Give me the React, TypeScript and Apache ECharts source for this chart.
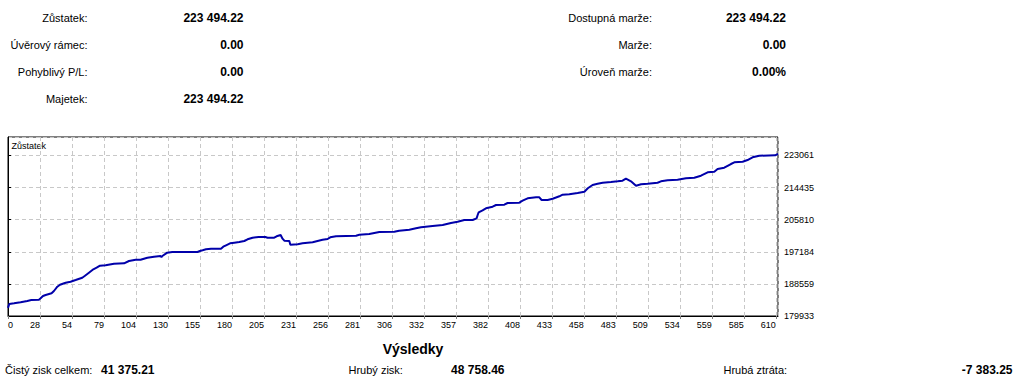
import React, { useEffect, useRef } from 'react';
import * as echarts from 'echarts';

// Trade number (x) and account balance (y)
const trades = [
  0, 1.0, 4.8, 10.0, 15.3, 18.5, 24.6, 25.9, 27.8, 29.9, 34.6, 36.5, 39.2, 41.3, 45.8, 49.7,
  53.7, 59.0, 60.9, 64.3, 67.8, 70.4, 73.1, 77.5, 84.2, 92.2, 96.1, 101.4, 105.3, 110.7, 116.0,
  121.2, 121.9, 122.6, 126.5, 130.5, 150.5, 152.5, 154.6, 157.3, 161.3, 169.2, 171.0, 173.2,
  176.4, 179.8, 183.7, 187.7, 190.3, 194.3, 199.1, 204.4, 206.2, 211.5, 213.4, 216.6, 218.1,
  219.5, 223.5, 224.3, 230.1, 234.0, 242.0, 245.9, 249.9, 253.9, 256.0, 260.6, 276.5, 279.1,
  287.0, 291.0, 295.0, 306.9, 310.7, 318.8, 324.1, 328.1, 337.3, 345.3, 351.9, 357.2, 362.5,
  369.1, 372.3, 373.1, 373.9, 377.0, 379.7, 385.0, 387.7, 394.3, 396.9, 406.2, 408.8, 412.8,
  419.5, 422.1, 423.9, 428.7, 432.7, 438.0, 440.6, 445.9, 452.5, 457.9, 460.6, 464.4, 468.4,
  472.4, 479.0, 484.3, 488.2, 490.9, 494.9, 498.9, 502.9, 508.1, 516.0, 518.7, 524.0, 531.9,
  538.6, 545.2, 550.5, 555.8, 561.1, 563.7, 569.0, 574.3, 577.0, 583.6, 587.5, 591.5, 596.8,
  609.5, 611.7,
];
const balances = [
  182119, 183157, 183345, 183614, 183964, 184232, 184313, 184689, 185307, 185576, 186032, 186651,
  187806, 188343, 188881, 189150, 189606, 190224, 190681, 191568, 192481, 192911, 193449, 193556,
  193986, 194094, 194712, 195061, 195061, 195598, 195867, 196055, 195750, 196055, 196942, 197130,
  197130, 197400, 197587, 197855, 198016, 198016, 198554, 198930, 199467, 199628, 199817, 200086,
  200542, 200972, 201160, 201160, 200972, 200972, 201349, 201698, 200704, 200166, 200086, 199091,
  199199, 199467, 199736, 200086, 200435, 200623, 201080, 201349, 201510, 201779, 201967, 202235,
  202504, 202585, 202853, 203122, 203498, 203767, 204116, 204385, 204922, 205272, 205728, 205728,
  206185, 207072, 207797, 208335, 208872, 209302, 209759, 209840, 210296, 210377, 210914, 211559,
  211828, 211828, 211102, 211102, 211452, 212097, 212526, 212634, 212983, 213333, 214247, 215133,
  215482, 215751, 215939, 216127, 216288, 216826, 216127, 214945, 215321, 215482, 215751, 216127,
  216396, 216557, 216933, 217094, 217632, 218545, 218707, 219432, 219782, 220776, 221233, 221394,
  221850, 222576, 223006, 223113, 223494.22,
];

const xTickLabels = [
  '0', '28', '54', '79', '104', '130', '155', '180', '205', '231', '256', '281', '306',
  '332', '357', '382', '408', '433', '458', '483', '509', '534', '559', '585', '610',
];
const yTickLabels = ['179933', '188559', '197184', '205810', '214435', '223061'];

const xStep = 610 / 24;
const xMax = 611.7;
const yMin = 179933;
const yStep = 8625.6;
const yMax = 228032;

const chartTitle = 'Zůstatek';

const accountLabels = ['Zůstatek:', 'Úvěrový rámec:', 'Pohyblivý P/L:', 'Majetek:'];
const accountValues = ['223 494.22', '0.00', '0.00', '223 494.22'];
const marginLabels = ['Dostupná marže:', 'Marže:', 'Úroveň marže:'];
const marginValues = ['223 494.22', '0.00', '0.00%'];

const resultsTitle = 'Výsledky';
const resultLabels = ['Čistý zisk celkem:', 'Hrubý zisk:', 'Hrubá ztráta:'];
const resultValues = ['41 375.21', '48 758.46', '-7 383.25'];

const FONT = '"Liberation Sans", Arial, sans-serif';

export default function App() {
  const ref = useRef<HTMLDivElement>(null);

  useEffect(() => {
    if (!ref.current) return;
    const chart = echarts.init(ref.current, null, { renderer: 'svg' });

    const txt = (
      text: string,
      x: number,
      y: number,
      align: string,
      size: number,
      bold = false
    ) => ({
      type: 'text',
      x,
      y,
      silent: true,
      style: {
        text,
        fill: '#000',
        fontSize: size,
        fontFamily: FONT,
        fontWeight: bold ? 'bold' : 'normal',
        align,
        verticalAlign: 'middle',
      },
    });

    const rowY = (i: number) => 17.7 + i * 27.2;
    const graphics: any[] = [];
    accountLabels.forEach((l, i) => graphics.push(txt(l, 87.5, rowY(i), 'right', 11)));
    accountValues.forEach((v, i) => graphics.push(txt(v, 243.5, rowY(i), 'right', 12, true)));
    marginLabels.forEach((l, i) => graphics.push(txt(l, 652, rowY(i), 'right', 11)));
    marginValues.forEach((v, i) => graphics.push(txt(v, 786, rowY(i), 'right', 12, true)));
    graphics.push(txt(chartTitle, 11.5, 146, 'left', 9));
    graphics.push(txt(resultsTitle, 413, 349, 'center', 14, true));
    const resLabelX = [5, 348.5, 723.5];
    const resValueX = [154.5, 504.5, 1012.5];
    resultLabels.forEach((l, i) => graphics.push(txt(l, resLabelX[i], 370.3, 'left', 11)));
    resultValues.forEach((v, i) => graphics.push(txt(v, resValueX[i], 370.3, 'right', 12, true)));

    const gridLine = { color: '#c8c8c8', type: [4, 3], width: 1 };

    chart.setOption({
      animation: false,
      backgroundColor: '#fff',
      grid: {
        left: 8,
        top: 137,
        width: 770,
        height: 179,
        show: true,
        borderColor: '#000',
        borderWidth: 1,
        backgroundColor: '#fff',
      },
      xAxis: {
        type: 'value',
        min: 0,
        max: xMax,
        interval: xStep,
        axisLine: { show: true, lineStyle: { color: '#000', width: 1 } },
        axisTick: { show: true, length: 3, lineStyle: { color: '#808080' } },
        axisLabel: {
          color: '#000',
          fontSize: 9,
          fontFamily: FONT,
          margin: 4,
          align: 'right',
          alignMinLabel: 'left',
          showMaxLabel: false,
          formatter: (v: number) => xTickLabels[Math.round(v / xStep)] ?? '',
        },
        splitLine: { show: true, lineStyle: gridLine },
      },
      yAxis: {
        type: 'value',
        position: 'right',
        min: yMin,
        max: yMax,
        interval: yStep,
        axisLine: { show: true, lineStyle: { color: '#000', width: 1 } },
        axisTick: { show: true, length: 3, lineStyle: { color: '#000' } },
        axisLabel: {
          color: '#000',
          fontSize: 9,
          fontFamily: FONT,
          margin: 6,
          showMaxLabel: false,
          formatter: (v: number) => yTickLabels[Math.round((v - yMin) / yStep)] ?? '',
        },
        splitLine: { show: true, lineStyle: gridLine },
      },
      series: [
        {
          type: 'line',
          data: trades.map((t, i) => [t, balances[i]]),
          showSymbol: false,
          symbol: 'none',
          lineStyle: { color: '#0000aa', width: 2 },
          silent: true,
        },
      ],
      graphic: graphics,
    });

    return () => chart.dispose();
  }, []);

  return (
    <div
      ref={ref}
      style={{ position: 'fixed', left: 0, top: 0, width: 1022, height: 380 }}
    />
  );
}
